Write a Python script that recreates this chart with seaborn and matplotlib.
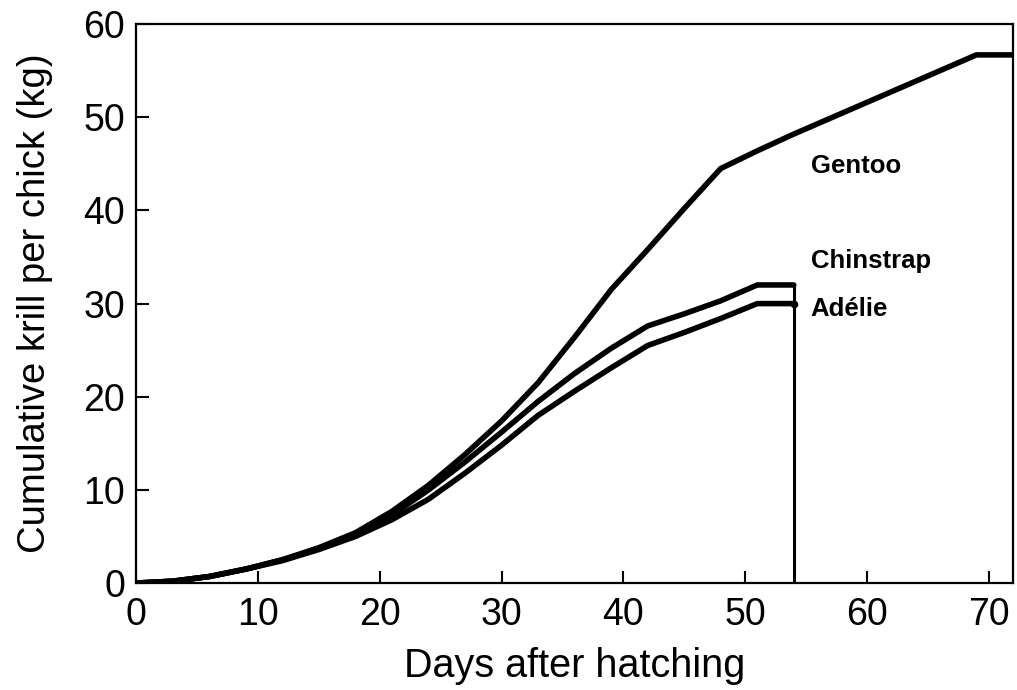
import matplotlib
matplotlib.use("Agg")
import matplotlib.pyplot as plt
import seaborn as sns
import pandas as pd

# Data
gentoo_days = [0, 3, 6, 9, 12, 15, 18, 21, 24, 27, 30, 33, 36, 39, 42, 45, 48, 51, 54, 57, 60, 63, 66, 69, 72]
gentoo_krill = [0, 0.2, 0.7, 1.5, 2.5, 3.8, 5.4, 7.7, 10.5, 13.8, 17.4, 21.5, 26.4, 31.5, 35.8, 40.2, 44.5, 46.4, 48.2, 49.9, 51.6, 53.3, 55.0, 56.7, 56.7]
chin_days = [0, 3, 6, 9, 12, 15, 18, 21, 24, 27, 30, 33, 36, 39, 42, 45, 48, 51, 54]
chin_krill = [0, 0.2, 0.7, 1.5, 2.5, 3.7, 5.2, 7.3, 10.0, 13.0, 16.2, 19.5, 22.5, 25.2, 27.6, 28.9, 30.3, 32.0, 32.0]
adel_days = [0, 3, 6, 9, 12, 15, 18, 21, 24, 27, 30, 33, 36, 39, 42, 45, 48, 51, 54]
adel_krill = [0, 0.2, 0.7, 1.5, 2.4, 3.6, 5.0, 6.8, 9.0, 11.8, 14.8, 18.0, 20.6, 23.1, 25.5, 26.9, 28.4, 30.0, 30.0]
fledge_day = 54
species = ["Gentoo", "Chinstrap", "Adélie"]
label_pos = [(55.4, 44.8), (55.4, 34.6), (55.4, 29.4)]
x_ticks = [0, 10, 20, 30, 40, 50, 60, 70]
y_ticks = [0, 10, 20, 30, 40, 50, 60]

df = pd.concat([
    pd.DataFrame({"day": gentoo_days, "krill": gentoo_krill, "species": species[0]}),
    pd.DataFrame({"day": chin_days, "krill": chin_krill, "species": species[1]}),
    pd.DataFrame({"day": adel_days, "krill": adel_krill, "species": species[2]}),
], ignore_index=True)

sns.set_theme(style="ticks")
plt.rcParams["font.family"] = ["Liberation Sans", "DejaVu Sans"]
plt.rcParams["text.color"] = "black"
plt.rcParams["axes.labelcolor"] = "black"
plt.rcParams["xtick.color"] = "black"
plt.rcParams["ytick.color"] = "black"

fig = plt.figure(figsize=(10.17, 6.9), dpi=100)
ax = fig.add_axes([0.134, 0.155, 0.862, 0.81])

sns.lineplot(data=df, x="day", y="krill", hue="species", palette=["black"] * 3,
             estimator=None, sort=False, linewidth=4.0, legend=False, ax=ax)
# fledging line
ax.plot([fledge_day, fledge_day], [0, max(chin_krill)], color="black", linewidth=2.2)
ax.plot([fledge_day], [adel_krill[-1]], marker="o", color="black", markersize=4.5)

for name, (lx, ly) in zip(species, label_pos):
    ax.text(lx, ly, name, fontsize=18.5, fontweight="bold", va="center", ha="left", color="black")

ax.set_xlim(0, 72)
ax.set_ylim(0, 60)
ax.set_xticks(x_ticks)
ax.set_yticks(y_ticks)
ax.tick_params(axis="both", direction="in", length=9, width=1.5, labelsize=27, top=False, right=False)
ax.tick_params(axis="x", pad=10)
ax.tick_params(axis="y", pad=8)
ax.set_xlabel("Days after hatching", fontsize=28.5, labelpad=10)
ax.set_ylabel("Cumulative krill per chick (kg)", fontsize=27.5, labelpad=22)
for s in ax.spines.values():
    s.set_linewidth(1.6)
    s.set_color("black")

fig.savefig("out.png", dpi=100, facecolor="white")
